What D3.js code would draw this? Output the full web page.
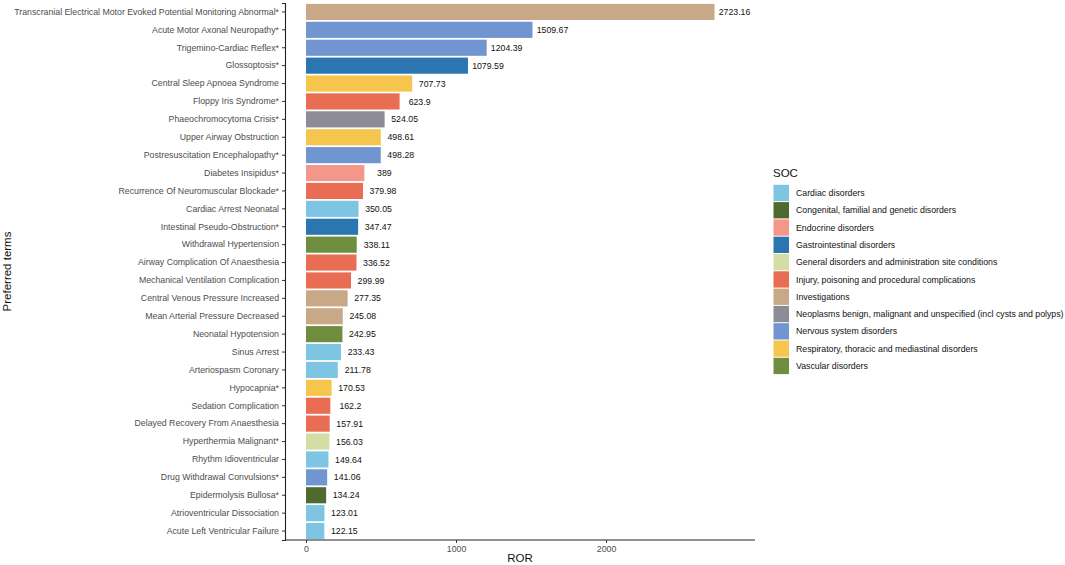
<!DOCTYPE html>
<html><head><meta charset="utf-8">
<script src="https://cdn.jsdelivr.net/npm/d3@7"></script>
<style>body{margin:0;background:#fff;} svg{font-family:"Liberation Sans",Arial,sans-serif;}</style>
</head><body><svg id="c" width="1065" height="565"></svg>
<script>
const terms = ["Transcranial Electrical Motor Evoked Potential Monitoring Abnormal*","Acute Motor Axonal Neuropathy*","Trigemino-Cardiac Reflex*","Glossoptosis*","Central Sleep Apnoea Syndrome","Floppy Iris Syndrome*","Phaeochromocytoma Crisis*","Upper Airway Obstruction","Postresuscitation Encephalopathy*","Diabetes Insipidus*","Recurrence Of Neuromuscular Blockade*","Cardiac Arrest Neonatal","Intestinal Pseudo-Obstruction*","Withdrawal Hypertension","Airway Complication Of Anaesthesia","Mechanical Ventilation Complication","Central Venous Pressure Increased","Mean Arterial Pressure Decreased","Neonatal Hypotension","Sinus Arrest","Arteriospasm Coronary","Hypocapnia*","Sedation Complication","Delayed Recovery From Anaesthesia","Hyperthermia Malignant*","Rhythm Idioventricular","Drug Withdrawal Convulsions*","Epidermolysis Bullosa*","Atrioventricular Dissociation","Acute Left Ventricular Failure"];
const rorValues = [2723.16,1509.67,1204.39,1079.59,707.73,623.9,524.05,498.61,498.28,389,379.98,350.05,347.47,338.11,336.52,299.99,277.35,245.08,242.95,233.43,211.78,170.53,162.2,157.91,156.03,149.64,141.06,134.24,123.01,122.15];
const rorLabels = ["2723.16","1509.67","1204.39","1079.59","707.73","623.9","524.05","498.61","498.28","389","379.98","350.05","347.47","338.11","336.52","299.99","277.35","245.08","242.95","233.43","211.78","170.53","162.2","157.91","156.03","149.64","141.06","134.24","123.01","122.15"];
const socOf = ["Investigations","Nervous system disorders","Nervous system disorders","Gastrointestinal disorders","Respiratory, thoracic and mediastinal disorders","Injury, poisoning and procedural complications","Neoplasms benign, malignant and unspecified (incl cysts and polyps)","Respiratory, thoracic and mediastinal disorders","Nervous system disorders","Endocrine disorders","Injury, poisoning and procedural complications","Cardiac disorders","Gastrointestinal disorders","Vascular disorders","Injury, poisoning and procedural complications","Injury, poisoning and procedural complications","Investigations","Investigations","Vascular disorders","Cardiac disorders","Cardiac disorders","Respiratory, thoracic and mediastinal disorders","Injury, poisoning and procedural complications","Injury, poisoning and procedural complications","General disorders and administration site conditions","Cardiac disorders","Nervous system disorders","Congenital, familial and genetic disorders","Cardiac disorders","Cardiac disorders"];
const socCategories = ["Cardiac disorders","Congenital, familial and genetic disorders","Endocrine disorders","Gastrointestinal disorders","General disorders and administration site conditions","Injury, poisoning and procedural complications","Investigations","Neoplasms benign, malignant and unspecified (incl cysts and polyps)","Nervous system disorders","Respiratory, thoracic and mediastinal disorders","Vascular disorders"];
const socColors = ["#7EC4E3","#4E6A2E","#F4968A","#2B76B1","#D4DDA3","#E96D52","#C8A886","#8D8C96","#7095D0","#F5C54E","#6F8D3E"];
const xTicks = [0,1000,2000];

const data = terms.map((t,i)=>({term:t, v:rorValues[i], label:rorLabels[i], soc:socOf[i]}));
const svg = d3.select("#c");
const L = 285, R = 755, T = 3, B = 540;
const x = d3.scaleLinear().domain([-140, 2993]).range([L, R]);
const y = d3.scaleBand().domain(terms).range([T, B]).paddingInner(0.1).paddingOuter(0.05);
const color = d3.scaleOrdinal().domain(socCategories).range(socColors);

// measure font size so the longest label matches reference width (~265px)
const probe = svg.append("text").attr("font-size",10).text(terms[0]);
const w10 = probe.node().getComputedTextLength();
probe.remove();
const fs = Math.min(10, 10*265/w10);

svg.append("g").selectAll("rect").data(data).join("rect")
  .attr("x", x(0)).attr("y", d=>y(d.term))
  .attr("width", d=>x(d.v)-x(0)).attr("height", y.bandwidth())
  .attr("fill", d=>color(d.soc));

svg.append("g").selectAll("text").data(data).join("text")
  .attr("x", d=>x(d.v)+20).attr("y", d=>y(d.term)+y.bandwidth()/2)
  .attr("dy","0.35em").attr("text-anchor","middle")
  .attr("font-size", fs).attr("fill","#111").text(d=>d.label);

const ya = svg.append("g").attr("transform",`translate(${L},0)`)
  .call(d3.axisLeft(y).tickSize(3).tickPadding(3));
ya.select(".domain").attr("stroke","#222").attr("stroke-width",1.1);
ya.selectAll(".tick line").attr("stroke","#333");
ya.selectAll(".tick text").attr("font-size",fs).attr("fill","#4d4d4d").attr("font-family","Liberation Sans, Arial, sans-serif");

const xa = svg.append("g").attr("transform",`translate(0,${B})`)
  .call(d3.axisBottom(x).tickValues(xTicks).tickSize(3).tickPadding(3).tickFormat(d3.format("d")));
xa.select(".domain").attr("stroke","#222").attr("stroke-width",1.1).attr("d",`M${L},0H${R}`);
xa.selectAll(".tick line").attr("stroke","#333");
xa.selectAll(".tick text").attr("font-size",fs).attr("fill","#4d4d4d").attr("font-family","Liberation Sans, Arial, sans-serif");

svg.append("text").attr("x",(L+R)/2).attr("y",562).attr("text-anchor","middle")
  .attr("font-size",11.5).attr("fill","#111").text("ROR");
svg.append("text").attr("transform",`translate(11,${(T+B)/2}) rotate(-90)`).attr("text-anchor","middle")
  .attr("font-size",11.5).attr("fill","#111").text("Preferred terms");

const lg = svg.append("g").attr("transform","translate(773,0)");
lg.append("text").attr("x",0).attr("y",177).attr("font-size",11.5).attr("fill","#111").text("SOC");
const ky = d3.scaleBand().domain(socCategories).range([184.3, 184.3+17.3*11]);
lg.selectAll("rect").data(socCategories).join("rect")
  .attr("x",0.5).attr("y",d=>ky(d)+0.5).attr("width",15.5).attr("height",ky.bandwidth()-1)
  .attr("fill",d=>color(d));
lg.selectAll("text.k").data(socCategories).join("text").attr("class","k")
  .attr("x",23).attr("y",d=>ky(d)+ky.bandwidth()/2).attr("dy","0.35em")
  .attr("font-size",fs).attr("fill","#111").text(d=>d);
</script></body></html>
